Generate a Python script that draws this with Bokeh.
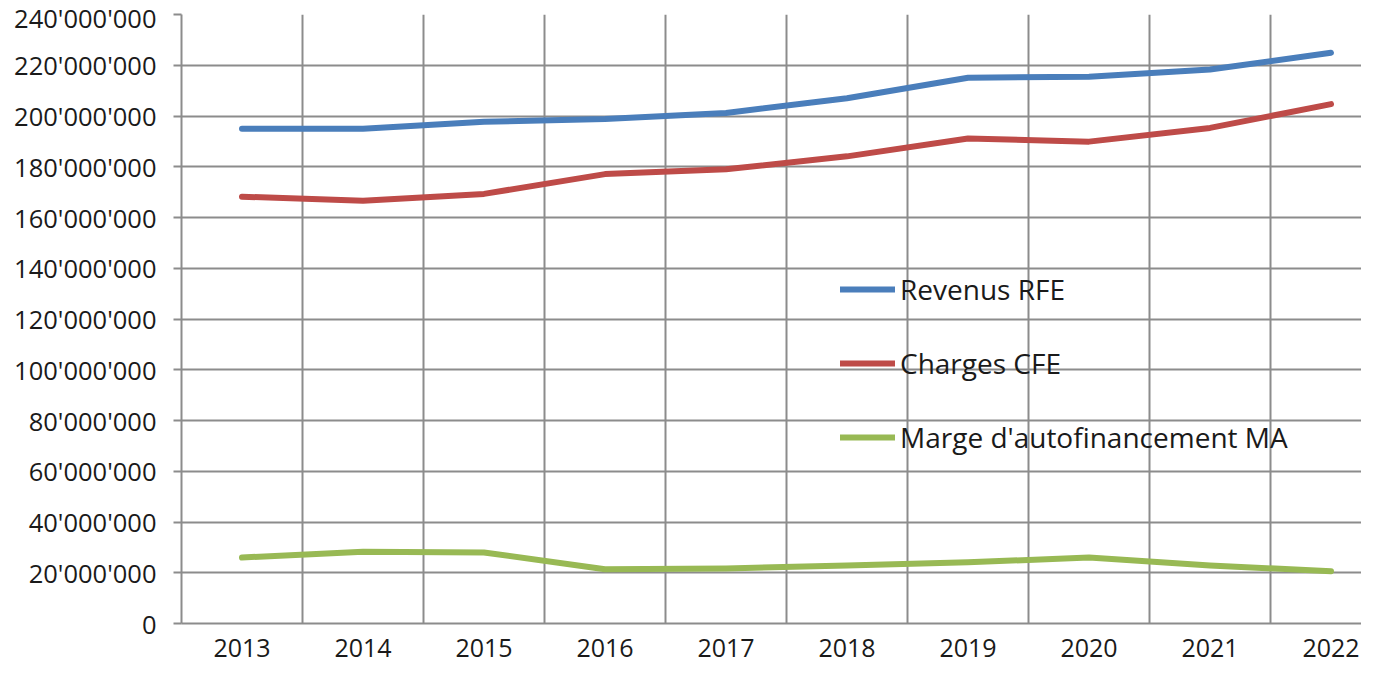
from bokeh.plotting import figure
from bokeh.models import FixedTicker, Legend, LegendItem, Range1d
from bokeh.embed import file_html
from bokeh.resources import INLINE

years = [2013, 2014, 2015, 2016, 2017, 2018, 2019, 2020, 2021, 2022]
revenus_rfe = [195.0e6, 195.0e6, 197.7e6, 198.8e6, 201.2e6, 207.0e6, 215.1e6, 215.5e6, 218.3e6, 224.9e6]
charges_cfe = [168.2e6, 166.6e6, 169.3e6, 177.1e6, 179.0e6, 184.1e6, 191.1e6, 189.9e6, 195.3e6, 204.7e6]
marge_ma = [26.0e6, 28.3e6, 28.0e6, 21.4e6, 21.7e6, 22.9e6, 24.1e6, 26.0e6, 22.9e6, 20.6e6]

series_names = ["Revenus RFE", "Charges CFE", "Marge d'autofinancement MA"]
series_colors = ["#4A7EBB", "#BE4B48", "#98B954"]

y_ticks = [0, 20e6, 40e6, 60e6, 80e6, 100e6, 120e6, 140e6, 160e6, 180e6, 200e6, 220e6, 240e6]
y_tick_labels = ["0", "20'000'000", "40'000'000", "60'000'000", "80'000'000", "100'000'000",
                 "120'000'000", "140'000'000", "160'000'000", "180'000'000", "200'000'000",
                 "220'000'000", "240'000'000"]

FONT = "Open Sans"
GRID = "#8C8C8C"
TXT = "#1A1A1A"

W, H = 1361, 673
LEFT, TOP, BOTTOM = 181, 14, 50
CAT_PX = 121.0

p = figure(width=W, height=H, output_backend="svg", toolbar_location=None,
           x_range=Range1d(years[0] - 0.5, years[0] - 0.5 + (W - LEFT) / CAT_PX),
           y_range=Range1d(y_ticks[0], y_ticks[-1]),
           min_border_left=LEFT, min_border_right=0, min_border_top=TOP, min_border_bottom=BOTTOM)
p.outline_line_color = None
p.background_fill_color = "white"
p.border_fill_color = "white"

# grids
p.xgrid.ticker = FixedTicker(ticks=[y - 0.5 for y in years] + [years[-1] + 0.5])
p.ygrid.ticker = FixedTicker(ticks=y_ticks)
for g in (p.xgrid, p.ygrid):
    g.grid_line_color = GRID
    g.grid_line_width = 2

# x axis
xa = p.xaxis[0]
xa.ticker = FixedTicker(ticks=years)
xa.major_label_overrides = {y: str(y) for y in years}
xa.major_tick_out = 0
xa.major_tick_in = 0
xa.minor_tick_out = 0
xa.minor_tick_in = 0
xa.axis_line_color = GRID
xa.axis_line_width = 2
xa.major_label_standoff = 15
xa.major_label_text_font = FONT
xa.major_label_text_font_size = "25px"
xa.major_label_text_color = TXT

# y axis
ya = p.yaxis[0]
ya.ticker = FixedTicker(ticks=y_ticks)
ya.major_label_overrides = {t: l for t, l in zip(y_ticks, y_tick_labels)}
ya.major_tick_out = 8
ya.major_tick_in = 0
ya.minor_tick_out = 0
ya.minor_tick_in = 0
ya.major_tick_line_color = GRID
ya.major_tick_line_width = 2
ya.axis_line_color = GRID
ya.axis_line_width = 2
ya.major_label_standoff = 17
ya.major_label_text_font = FONT
ya.major_label_text_font_size = "25.5px"
ya.major_label_text_color = TXT

items = []
for name, vals, col in zip(series_names, [revenus_rfe, charges_cfe, marge_ma], series_colors):
    r = p.line(years, vals, line_color=col, line_width=6, line_cap="round", line_join="round")
    items.append(LegendItem(label=name, renderers=[r]))

legend = Legend(items=items, location=(659, 167), orientation="vertical",
                glyph_width=55, glyph_height=32, label_height=32, label_standoff=5,
                spacing=36, padding=0, margin=0,
                border_line_color=None, background_fill_alpha=0,
                label_text_font=FONT, label_text_font_size="28px", label_text_color=TXT)
p.add_layout(legend)

open("out.html", "w").write(file_html(p, INLINE))
